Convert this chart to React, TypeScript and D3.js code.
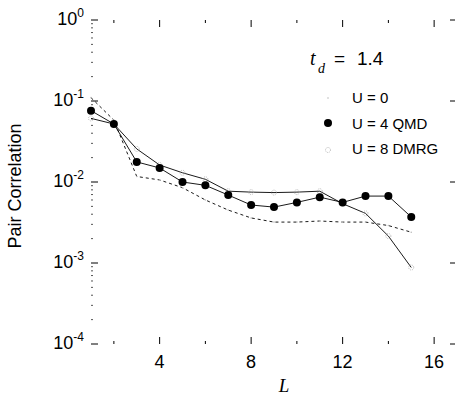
import React from "react";
import * as d3 from "d3";

const L = [1, 2, 3, 4, 5, 6, 7, 8, 9, 10, 11, 12, 13, 14, 15];
const u0 = [0.11, 0.058, 0.0117, 0.0106, 0.0085, 0.006, 0.0045, 0.0036, 0.0032, 0.0032, 0.0033, 0.0032, 0.0032, 0.0029, 0.0024];
const u4 = [0.076, 0.052, 0.0177, 0.0149, 0.01, 0.0091, 0.0069, 0.0052, 0.0049, 0.0056, 0.0065, 0.0056, 0.0067, 0.0067, 0.0037];
const u8 = [0.061, 0.052, 0.0256, 0.0162, 0.013, 0.0108, 0.0077, 0.0075, 0.0074, 0.0075, 0.0077, 0.0054, 0.0041, 0.00215, 0.00088];
const xMajor = [4, 8, 12, 16];
const xMinor = [2, 6, 10, 14];
const yExps = [0, -1, -2, -3, -4];
const legendLabels = ["U = 0", "U = 4 QMD", "U = 8 DMRG"];

const W = 455, H = 401;

export default function App() {
  const x = d3.scaleLinear().domain([1, 17]).range([91, 457]);
  const y = d3.scaleLog().domain([1e-4, 1]).range([344, 20]);
  const line = d3.line<number>().x((_, i) => x(L[i])).y((v) => y(v));
  const top = y(1), bottom = y(1e-4), left = x(1), right = x(17);

  const minorY: number[] = [];
  for (let e = -4; e < 0; e++) for (let k = 2; k <= 9; k++) minorY.push(k * Math.pow(10, e));

  const sans = "'Liberation Sans', Arial, Helvetica, sans-serif";
  const serif = "'Liberation Serif', 'Times New Roman', serif";

  return (
    <svg width={W} height={H} style={{ position: "absolute", left: 0, top: 0, background: "#fff" }}>
      <rect width={W} height={H} fill="#fff" />
      {/* y ticks */}
      {yExps.map((e) => {
        const yy = y(Math.pow(10, e));
        return (
          <g key={"ye" + e}>
            <line x1={left} x2={left + 7} y1={yy} y2={yy} stroke="#000" strokeWidth={1} />
            <line x1={right} x2={right - 7} y1={yy} y2={yy} stroke="#000" strokeWidth={1} />
            <text x={84} y={yy + 5} textAnchor="end" fontFamily={sans} fontSize={18} fill="#000">
              10<tspan dy={-8} fontSize={12}>{e === 0 ? "0" : "-" + Math.abs(e)}</tspan>
            </text>
          </g>
        );
      })}
      {minorY.map((v, i) => (
        <g key={"ym" + i}>
          <line x1={left} x2={left + 2} y1={y(v)} y2={y(v)} stroke="#555" strokeWidth={1} />
          <line x1={right} x2={right - 2} y1={y(v)} y2={y(v)} stroke="#555" strokeWidth={1} />
        </g>
      ))}
      {/* x ticks */}
      {xMajor.map((t) => (
        <g key={"xM" + t}>
          <line x1={x(t)} x2={x(t)} y1={bottom} y2={bottom - 7} stroke="#000" />
          <line x1={x(t)} x2={x(t)} y1={top} y2={top + 7} stroke="#000" />
          <text x={x(t)} y={368} textAnchor="middle" fontFamily={sans} fontSize={18} fill="#000">{t}</text>
        </g>
      ))}
      {xMinor.map((t) => (
        <g key={"xm" + t}>
          <line x1={x(t)} x2={x(t)} y1={bottom} y2={bottom - 3} stroke="#000" />
          <line x1={x(t)} x2={x(t)} y1={top} y2={top + 3} stroke="#000" />
        </g>
      ))}
      {/* lines */}
      <path d={line(u0) || ""} fill="none" stroke="#000" strokeWidth={0.9} strokeDasharray="3,3" />
      <path d={line(u8) || ""} fill="none" stroke="#000" strokeWidth={0.9} />
      <path d={line(u4) || ""} fill="none" stroke="#000" strokeWidth={0.9} />
      {u0.map((v, i) => (
        <circle key={"p0" + i} cx={x(L[i])} cy={y(v)} r={0.8} fill="#bbb" />
      ))}
      {u8.map((v, i) => (
        <circle key={"p8" + i} cx={x(L[i])} cy={y(v)} r={2.5} fill="none" stroke="#aaa" strokeWidth={0.8} strokeDasharray="1,1" />
      ))}
      {u4.map((v, i) => (
        <circle key={"p4" + i} cx={x(L[i])} cy={y(v)} r={4} fill="#000" />
      ))}
      {/* annotation */}
      <text x={310} y={65} fontFamily={serif} fontStyle="italic" fontSize={20} fill="#000">t</text>
      <text x={318} y={73} fontFamily={serif} fontStyle="italic" fontSize={14} fill="#000">d</text>
      <text x={334} y={65} fontFamily={sans} fontSize={19} fill="#000">=</text>
      <text x={357} y={65} fontFamily={sans} fontSize={19} fill="#000">1.4</text>
      {/* legend */}
      <circle cx={328} cy={98} r={0.8} fill="#bbb" />
      <circle cx={328} cy={123} r={4} fill="#000" />
      <circle cx={328} cy={150} r={2.5} fill="none" stroke="#aaa" strokeWidth={0.8} strokeDasharray="1,1" />
      {legendLabels.map((s, i) => (
        <text key={s} x={352} y={103 + i * 25.5} fontFamily={sans} fontSize={15} fill="#000">{s}</text>
      ))}
      {/* axis labels */}
      <text x={284} y={392} textAnchor="middle" fontFamily={serif} fontStyle="italic" fontSize={19} fill="#000">L</text>
      <text transform={`translate(21,186) rotate(-90)`} textAnchor="middle" fontFamily={sans} fontSize={18} fill="#000">Pair Correlation</text>
    </svg>
  );
}
